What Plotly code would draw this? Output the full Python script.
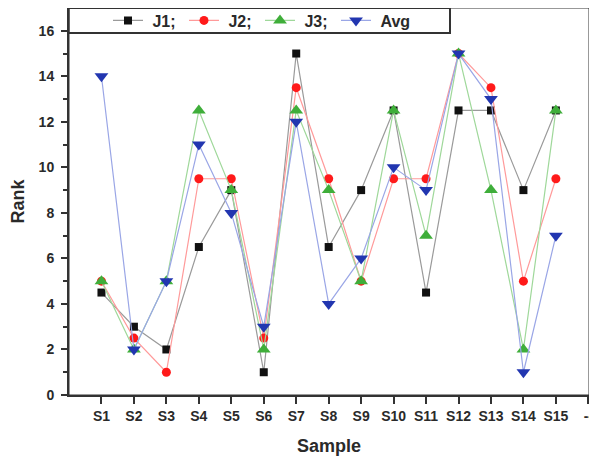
import plotly.graph_objects as go

samples = ["S1","S2","S3","S4","S5","S6","S7","S8","S9","S10","S11","S12","S13","S14","S15"]
tick_labels = samples + ["--"]
J1 = [4.5, 3, 2, 6.5, 9, 1, 15, 6.5, 9, 12.5, 4.5, 12.5, 12.5, 9, 12.5]
J2 = [5, 2.5, 1, 9.5, 9.5, 2.5, 13.5, 9.5, 5, 9.5, 9.5, 15, 13.5, 5, 9.5]
J3 = [5, 2, 5, 12.5, 9, 2, 12.5, 9, 5, 12.5, 7, 15, 9, 2, 12.5]
Avg = [14, 2, 5, 11, 8, 3, 12, 4, 6, 10, 9, 15, 13, 1, 7]

xpos = list(range(1, len(samples) + 1))
tickpos = list(range(1, len(tick_labels) + 1))

series = [
    ("J1;", J1, "#111111", "#9a9a9a", "square", 8),
    ("J2;", J2, "#ff1a1a", "#ff9a9a", "circle", 9),
    ("J3;", J3, "#3fae3a", "#9fd89a", "triangle-up", 12),
    ("Avg", Avg, "#2236b0", "#9aa6e6", "triangle-down", 12),
]

fig = go.Figure()
for name, vals, mc, lc, sym, sz in series:
    fig.add_trace(go.Scatter(
        x=xpos, y=vals, name="\u00a0" + name, mode="lines+markers",
        line=dict(color=lc, width=1.2),
        marker=dict(color=mc, symbol=sym, size=sz, line=dict(width=0)),
    ))

font = "Liberation Sans, Arial, sans-serif"
# the page body adds an 8px offset, so the figure is 8px smaller and shifted
OFF = 8
W, H = 597 - OFF, 458 - OFF
L, R, T, B = 69 - OFF, 8, 0, 63
pw, ph = W - L - R, H - T - B

def px_x(p):
    return (p - OFF - L) / pw

def px_y(p):
    return (H - B - (p - OFF)) / ph

fig.update_layout(
    width=W, height=H,
    margin=dict(l=L, r=R, t=T, b=B, autoexpand=False),
    paper_bgcolor="white", plot_bgcolor="white",
    font=dict(family=font, color="#2a2a2a"),
    showlegend=True,
    legend=dict(
        orientation="h", x=px_x(108), y=px_y(20.5), xanchor="left", yanchor="middle",
        bgcolor="rgba(0,0,0,0)", borderwidth=0,
        font=dict(size=16, color="#2a2a2a", weight="bold"),
        entrywidth=31, itemwidth=30,
    ),
    xaxis=dict(
        range=[0, 16.02], tickvals=tickpos, ticktext=tick_labels,
        showgrid=False, zeroline=False, automargin=False,
        showline=True, linecolor="#333333", linewidth=2,
        ticks="outside", ticklen=7, tickwidth=2, tickcolor="#333333",
        tickfont=dict(size=14, weight="bold"),
        title=dict(text="Sample", font=dict(size=18, weight="bold"), standoff=17),
    ),
    yaxis=dict(
        range=[0, 17], tickvals=[0, 2, 4, 6, 8, 10, 12, 14, 16],
        showgrid=False, zeroline=False, automargin=False,
        showline=True, linecolor="#333333", linewidth=2,
        ticks="outside", ticklen=6, tickwidth=2, tickcolor="#333333",
        ticklabelstandoff=4,
        minor=dict(tickvals=[1, 3, 5, 7, 9, 11, 13, 15], ticks="outside", ticklen=4, tickwidth=1.5, tickcolor="#333333"),
        tickfont=dict(size=14, weight="bold"),
        title=dict(text="Rank", font=dict(size=18, weight="bold"), standoff=12),
    ),
)
# plot frame
fig.add_shape(type="rect", xref="paper", yref="paper", x0=0, y0=0, x1=1, y1=1,
              line=dict(color="#333333", width=1), layer="above")
# legend box
fig.add_shape(type="rect", xref="paper", yref="paper",
              x0=px_x(68.5), x1=px_x(450), y0=px_y(33), y1=px_y(8),
              line=dict(color="#333333", width=2), fillcolor="white", layer="below")

fig.write_html("out.html")
